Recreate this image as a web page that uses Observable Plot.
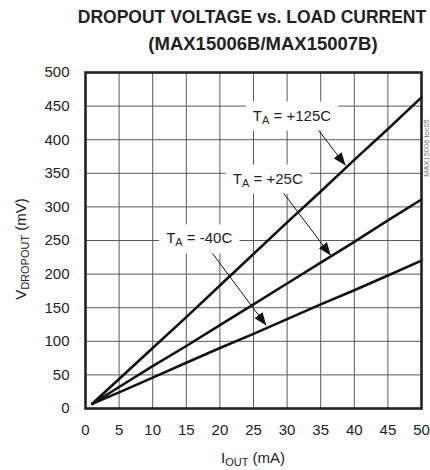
<!DOCTYPE html>
<html>
<head>
<meta charset="utf-8">
<script src="https://cdn.jsdelivr.net/npm/d3@7"></script>
<script src="https://cdn.jsdelivr.net/npm/@observablehq/plot@0.6"></script>
<style>
  html, body { margin: 0; padding: 0; background: #fff; }
  #wrap { position: relative; width: 430px; height: 470px; overflow: hidden; font-family: "Liberation Sans", Arial, sans-serif; }
  .t { position: absolute; font-weight: bold; font-size: 17.5px; color: #222; white-space: nowrap; transform: translateX(-50%); line-height: 1; }
  #chart { position: absolute; left: 0; top: 58px; }
</style>
</head>
<body>
<div id="wrap">
  <div class="t" style="left:252px; top:9px;">DROPOUT VOLTAGE vs. LOAD CURRENT</div>
  <div class="t" style="left:263px; top:35px; font-size:18.5px;">(MAX15006B/MAX15007B)</div>
  <div id="chart"></div>
</div>
<script>
// Load current (mA)
const iout = [1, 5, 10, 15, 20, 25, 30, 35, 40, 45, 50];
// Dropout voltage (mV) per temperature
const v125 = [7, 44, 90, 136, 183, 230, 277, 323, 370, 416, 463];
const v25  = [7, 32, 63, 93, 124, 155, 186, 217, 248, 280, 311];
const vm40 = [7, 24, 46, 68, 90, 111, 133, 155, 176, 198, 220];
const seriesNames = ["+125C", "+25C", "-40C"];
const seriesValues = [v125, v25, vm40];

const xTicks = [0, 5, 10, 15, 20, 25, 30, 35, 40, 45, 50];
const yTicks = [0, 50, 100, 150, 200, 250, 300, 350, 400, 450, 500];

// Annotations: label centre and arrow start/tip (data units)
const labelX = [30.8, 27.2, 17.0];
const labelY = [436, 342, 253];
const arrowX1 = [34.7, 29.5, 18.9];
const arrowY1 = [413.7, 320, 230.7];
const arrowX2 = [38.7, 36.5, 26.9];
const arrowY2 = [361.6, 227.7, 123.5];

const rows = [];
seriesNames.forEach((s, k) => iout.forEach((x, i) => rows.push({s, x, y: seriesValues[k][i]})));
const arrows = seriesNames.map((s, k) => ({x1: arrowX1[k], y1: arrowY1[k], x2: arrowX2[k], y2: arrowY2[k]}));

function headMarker(color, context) {
  const ns = "http://www.w3.org/2000/svg";
  const m = context.document.createElementNS(ns, "marker");
  m.setAttribute("viewBox", "-13 -5 13 10");
  m.setAttribute("markerWidth", "13");
  m.setAttribute("markerHeight", "10");
  m.setAttribute("markerUnits", "userSpaceOnUse");
  m.setAttribute("orient", "auto");
  m.setAttribute("refX", "0");
  m.setAttribute("refY", "0");
  const p = context.document.createElementNS(ns, "path");
  p.setAttribute("d", "M-13,-5L0,0L-13,5Z");
  p.setAttribute("fill", "#111");
  p.setAttribute("stroke", "none");
  m.appendChild(p);
  return m;
}

const plot = Plot.plot({
  width: 430,
  height: 412,
  marginLeft: 85,
  marginRight: 9,
  marginTop: 14,
  marginBottom: 62,
  style: {fontFamily: "'Liberation Sans', Arial, sans-serif", fontSize: "15px", color: "#222", background: "#fff"},
  x: {domain: [0, 50], ticks: xTicks, tickSize: 0, tickPadding: 16, label: null},
  y: {domain: [0, 500], ticks: yTicks, tickSize: 0, tickPadding: 16, label: null},
  marks: [
    Plot.gridX(xTicks, {stroke: "#5a5a5a", strokeOpacity: 1, strokeWidth: 1}),
    Plot.gridY(yTicks, {stroke: "#5a5a5a", strokeOpacity: 1, strokeWidth: 1}),
    Plot.line(rows, {x: "x", y: "y", z: "s", stroke: "#111", strokeWidth: 2.6}),
    Plot.link(arrows, {x1: "x1", y1: "y1", x2: "x2", y2: "y2", stroke: "#111", strokeWidth: 1, markerEnd: headMarker}),
    Plot.frame({stroke: "#222", strokeWidth: 2.6}),
    Plot.axisX({ticks: xTicks, tickSize: 0, tickPadding: 16, fontSize: 15}),
    Plot.axisY({ticks: yTicks, tickSize: 0, tickPadding: 16, fontSize: 15})
  ]
});
document.getElementById("chart").appendChild(plot);

const sx = plot.scale("x"), sy = plot.scale("y");
const svg = d3.select(plot);

// Annotation labels with white boxes
const gBox = svg.insert("g", () => plot.querySelector("[aria-label=line]"));
const gTxt = svg.append("g").attr("font-size", 15).attr("fill", "#222");
seriesNames.forEach((s, k) => {
  const cx = sx.apply(labelX[k]), cy = sy.apply(labelY[k]);
  const t = gTxt.append("text").attr("x", cx).attr("y", cy + 5.5).attr("text-anchor", "middle");
  t.append("tspan").text("T");
  t.append("tspan").attr("font-size", 11).attr("dy", 3).text("A");
  t.append("tspan").attr("dy", -3).text(" = " + s);
  const b = t.node().getBBox();
  gBox.append("rect").attr("x", b.x - 7).attr("y", b.y - 5).attr("width", b.width + 14).attr("height", b.height + 10).attr("fill", "#fff");
});

// Axis labels
const yl = svg.append("text").attr("font-size", 15).attr("fill", "#222").attr("text-anchor", "middle")
  .attr("transform", `translate(26,${249 - 58}) rotate(-90)`);
yl.append("tspan").text("V");
yl.append("tspan").attr("font-size", 11).attr("dy", 3).text("DROPOUT");
yl.append("tspan").attr("dy", -3).text(" (mV)");

const xl = svg.append("text").attr("font-size", 15).attr("fill", "#222").attr("text-anchor", "middle")
  .attr("x", 253).attr("y", 463 - 58);
xl.append("tspan").text("I");
xl.append("tspan").attr("font-size", 11).attr("dy", 3).text("OUT");
xl.append("tspan").attr("dy", -3).text(" (mA)");

// Figure code watermark
svg.append("text").attr("font-size", 7.5).attr("fill", "#777")
  .attr("transform", `translate(428.5,${148 - 58}) rotate(-90)`)
  .text("MAX15006 toc05");
</script>
</body>
</html>
